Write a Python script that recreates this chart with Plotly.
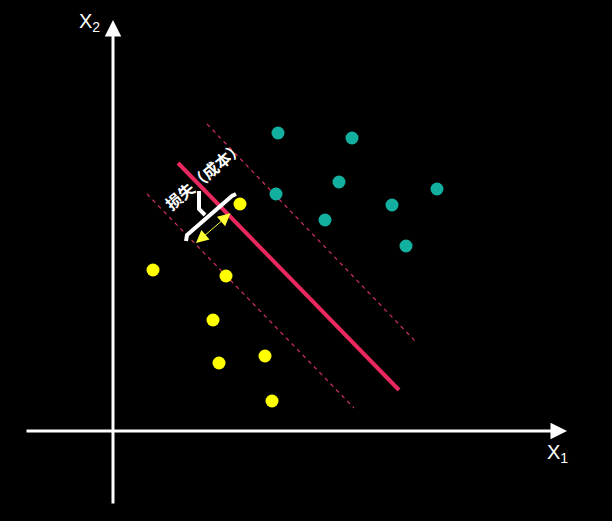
import plotly.graph_objects as go

# Data (units: abstract feature space, origin at axis crossing)
yellow_x = [12.7, 4.0, 11.3, 10.0, 10.6, 15.2, 15.9]
yellow_y = [22.7, 16.1, 15.5, 11.1, 6.8, 7.5, 3.0]
teal_x = [16.5, 23.9, 22.6, 32.4, 16.3, 27.9, 21.2, 29.3]
teal_y = [29.8, 29.3, 24.9, 24.2, 23.7, 22.6, 21.1, 18.5]

boundary_x = [6.5, 28.6]
boundary_y = [26.8, 4.1]
upper_margin_x = [9.4, 30.3]
upper_margin_y = [30.7, 8.9]
lower_margin_x = [3.4, 24.1]
lower_margin_y = [23.7, 2.3]

brace_bar_x = [7.3, 7.4, 11.9, 12.3]
brace_bar_y = [19.0, 19.6, 23.5, 23.7]
brace_stem_x = [8.6, 8.6, 9.2]
brace_stem_y = [24.0, 22.2, 21.6]

margin_arrow = [(11.9, 21.9), (8.3, 18.8)]
x_axis_ends = [(-8.8, 0.0), (45.4, 0.0)]
y_axis_ends = [(0.0, -7.4), (0.0, 41.1)]

label_text = "损失（成本）"
label_pos = (9.1, 25.6)
x1_label_pos = (44.4, -2.2)
x2_label_pos = (-2.4, 40.9)

fig = go.Figure()

fig.add_trace(go.Scatter(x=upper_margin_x, y=upper_margin_y, mode="lines",
                         line=dict(color="#d0305c", width=1.2, dash="4px,4px"), hoverinfo="skip"))
fig.add_trace(go.Scatter(x=lower_margin_x, y=lower_margin_y, mode="lines",
                         line=dict(color="#d0305c", width=1.2, dash="4px,4px"), hoverinfo="skip"))
fig.add_trace(go.Scatter(x=boundary_x, y=boundary_y, mode="lines",
                         line=dict(color="#e8285e", width=4), hoverinfo="skip"))

fig.add_trace(go.Scatter(x=brace_bar_x, y=brace_bar_y, mode="lines",
                         line=dict(color="white", width=4), hoverinfo="skip"))
fig.add_trace(go.Scatter(x=brace_stem_x, y=brace_stem_y, mode="lines",
                         line=dict(color="white", width=4), hoverinfo="skip"))

fig.add_trace(go.Scatter(x=yellow_x, y=yellow_y, mode="markers",
                         marker=dict(color="#ffff00", size=13), hoverinfo="skip"))
fig.add_trace(go.Scatter(x=teal_x, y=teal_y, mode="markers",
                         marker=dict(color="#13b0a0", size=13), hoverinfo="skip"))

anns = []
# axes arrows
for (sx, sy), (ex, ey) in [x_axis_ends, y_axis_ends]:
    anns.append(dict(x=ex, y=ey, ax=sx, ay=sy, xref="x", yref="y", axref="x", ayref="y",
                     showarrow=True, arrowhead=2, arrowsize=1.1, arrowwidth=3,
                     arrowcolor="white", text=""))
# margin double arrow
(ax0, ay0), (ax1, ay1) = margin_arrow
anns.append(dict(x=ax1, y=ay1, ax=ax0, ay=ay0, xref="x", yref="y", axref="x", ayref="y",
                 showarrow=True, arrowhead=2, startarrowhead=2, arrowside="end+start",
                 arrowsize=2.5, startarrowsize=2.5, arrowwidth=1,
                 arrowcolor="#ffff33", text=""))
anns.append(dict(x=label_pos[0], y=label_pos[1], xref="x", yref="y", text="<b>" + label_text + "</b>",
                 showarrow=False, textangle=-40,
                 font=dict(family="Noto Sans CJK SC", size=16, color="white")))
anns.append(dict(x=x1_label_pos[0], y=x1_label_pos[1], xref="x", yref="y",
                 text="X<sub>1</sub>", showarrow=False,
                 font=dict(family="Liberation Sans", size=20, color="white")))
anns.append(dict(x=x2_label_pos[0], y=x2_label_pos[1], xref="x", yref="y",
                 text="X<sub>2</sub>", showarrow=False,
                 font=dict(family="Liberation Sans", size=20, color="white")))

fig.update_layout(
    width=612, height=521,
    margin=dict(l=0, r=0, t=0, b=0),
    paper_bgcolor="black", plot_bgcolor="black",
    showlegend=False,
    annotations=anns,
    xaxis=dict(range=[-11.3, 49.9], visible=False, fixedrange=True),
    yaxis=dict(range=[-9.0, 43.1], visible=False, fixedrange=True),
)

fig.write_html("out.html", config={"displayModeBar": False},
               post_script="document.body.style.margin='0';document.body.style.background='black';")
